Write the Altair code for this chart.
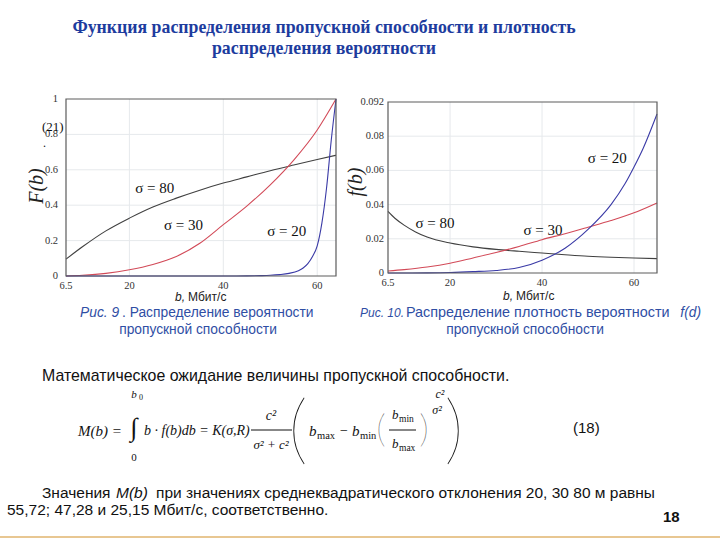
import altair as alt
import pandas as pd

# ---------------- data: Рис. 9, F(b) ----------------
f9_b_s80 = [6.5, 10, 15, 20, 25, 30, 35, 40, 45, 50, 55, 60, 64]
f9_F_s80 = [0.095, 0.165, 0.255, 0.327, 0.39, 0.44, 0.485, 0.525, 0.56, 0.595, 0.627, 0.658, 0.682]
f9_b_s30 = [6.5, 10, 15, 20, 25, 30, 35, 40, 45, 50, 55, 60, 64]
f9_F_s30 = [0.0, 0.004, 0.015, 0.035, 0.065, 0.11, 0.185, 0.29, 0.395, 0.515, 0.655, 0.825, 1.0]
f9_b_s20 = [6.5, 20, 30, 40, 45, 48, 50, 52, 54, 56, 57, 58, 59, 60, 61, 62, 63, 64]
f9_F_s20 = [0, 0, 0, 0, 0.0005, 0.002, 0.004, 0.008, 0.015, 0.03, 0.045, 0.07, 0.11, 0.17, 0.30, 0.50, 0.77, 1.0]

# ---------------- data: Рис. 10, f(b) ----------------
f10_b_s80 = [6.5, 8, 10, 12.5, 15, 20, 25, 30, 35, 40, 45, 50, 55, 60, 65]
f10_f_s80 = [0.036, 0.032, 0.028, 0.024, 0.021, 0.0175, 0.0153, 0.0138, 0.0127, 0.0117, 0.0107, 0.0098, 0.0092, 0.0088, 0.0084]
f10_b_s30 = [6.5, 10, 15, 20, 25, 30, 35, 40, 45, 50, 55, 60, 65]
f10_f_s30 = [0.0012, 0.002, 0.0035, 0.0057, 0.0088, 0.012, 0.0155, 0.0195, 0.023, 0.0268, 0.0307, 0.0352, 0.041]
f10_b_s20 = [6.5, 15, 20, 25, 30, 35, 40, 45, 50, 55, 58, 60, 62, 65]
f10_f_s20 = [0.0, 0.0001, 0.0003, 0.0008, 0.0015, 0.0032, 0.0075, 0.0145, 0.0255, 0.040, 0.052, 0.062, 0.073, 0.093]

series = ["σ = 80", "σ = 30", "σ = 20"]
series_colors = ["#404040", "#d24a58", "#3a3aa6"]

# ticks and tick labels
f9_x_ticks = [6.5, 20, 40, 60]
f9_x_labels = ["6.5", "20", "40", "60"]
f9_y_ticks = [0, 0.2, 0.4, 0.6, 0.8, 1]
f9_y_labels = ["0", "0.2", "0.4", "0.6", "0.8", "1"]
f10_x_ticks = [6.5, 20, 40, 60]
f10_x_labels = ["6.5", "20", "40", "60"]
f10_y_ticks = [0, 0.02, 0.04, 0.06, 0.08, 0.1]
f10_y_labels = ["0", "0.02", "0.04", "0.06", "0.08", "0.092"]

W, H = 720, 540
SERIF = "Liberation Serif"
SANS = "Liberation Sans"
TITLE_BLUE = "#1d3c9e"
CAP_BLUE = "#2f4ea4"


def long_df(parts):
    frames = []
    for name, b, v in parts:
        frames.append(pd.DataFrame({"b": b, "v": v, "s": name}))
    return pd.concat(frames, ignore_index=True)


df9 = long_df([(series[0], f9_b_s80, f9_F_s80), (series[1], f9_b_s30, f9_F_s30), (series[2], f9_b_s20, f9_F_s20)])
df10 = long_df([(series[0], f10_b_s80, f10_f_s80), (series[1], f10_b_s30, f10_f_s30), (series[2], f10_b_s20, f10_f_s20)])


def one(s):
    return pd.DataFrame({"t": [s]})


def panel(df, xs, ys, xticks, xlabels, yticks, ylabels, y_pad, xmin, xmax, ymin, ymax, labels):
    grid_v = alt.Chart(pd.DataFrame({"g": xticks[1:]})).mark_rule(color="#e6e9ec", strokeWidth=1).encode(
        x=alt.X("g:Q", scale=xs, axis=None),
        y=alt.YDatum(ymin, scale=ys, axis=None),
        y2=alt.Y2Datum(ymax),
    )
    grid_h = alt.Chart(pd.DataFrame({"g": yticks[1:-1]})).mark_rule(color="#e6e9ec", strokeWidth=1).encode(
        y=alt.Y("g:Q", scale=ys, axis=None),
        x=alt.XDatum(xmin, scale=xs, axis=None),
        x2=alt.X2Datum(xmax),
    )
    lines = alt.Chart(df).mark_line(strokeWidth=1.1, interpolate="monotone").encode(
        x=alt.X("b:Q", scale=xs, axis=None),
        y=alt.Y("v:Q", scale=ys, axis=None),
        color=alt.Color("s:N", scale=alt.Scale(domain=series, range=series_colors), legend=None),
    )
    frame = alt.Chart(one("")).mark_rect(fillOpacity=0, stroke="#5c5c5c", strokeWidth=1.2).encode(
        x=alt.XDatum(xmin, scale=xs, axis=None),
        x2=alt.X2Datum(xmax),
        y=alt.YDatum(ymin, scale=ys, axis=None),
        y2=alt.Y2Datum(ymax),
    )
    xlab = alt.Chart(pd.DataFrame({"v": xticks, "lab": xlabels})).mark_text(
        font=SERIF, fontSize=10.5, color="#333333", align="center", baseline="top", dy=5
    ).encode(
        x=alt.X("v:Q", scale=xs, axis=None),
        y=alt.YDatum(ymin, scale=ys, axis=None),
        text="lab:N",
    )
    ylab = alt.Chart(pd.DataFrame({"v": yticks, "lab": ylabels})).mark_text(
        font=SERIF, fontSize=10.5, color="#333333", align="right", baseline="middle", dx=-y_pad
    ).encode(
        y=alt.Y("v:Q", scale=ys, axis=None),
        x=alt.XDatum(xmin, scale=xs, axis=None),
        text="lab:N",
    )
    lab_layers = []
    for name, lx, ly in labels:
        lab_layers.append(
            alt.Chart(one(name)).mark_text(font=SERIF, fontSize=15, color="#111111").encode(
                x=alt.XDatum(lx, scale=xs, axis=None),
                y=alt.YDatum(ly, scale=ys, axis=None),
                text="t:N",
            )
        )
    return alt.layer(grid_v, grid_h, lines, frame, xlab, ylab, *lab_layers)


xs9 = alt.Scale(domain=[6.5, 64], range=[66, 336], nice=False, zero=False)
ys9 = alt.Scale(domain=[0, 1], range=[276, 99], nice=False, zero=False)
xs10 = alt.Scale(domain=[6.5, 65], range=[388, 657], nice=False, zero=False)
ys10 = alt.Scale(domain=[0, 0.1], range=[273, 102], nice=False, zero=False)

p9 = panel(df9, xs9, ys9, f9_x_ticks, f9_x_labels, f9_y_ticks, f9_y_labels, 8, 6.5, 64, 0, 1,
           [(series[0], 25.4, 0.50), (series[1], 31.5, 0.29), (series[2], 53.5, 0.255)])
p10 = panel(df10, xs10, ys10, f10_x_ticks, f10_x_labels, f10_y_ticks, f10_y_labels, 4, 6.5, 65, 0, 0.1,
            [(series[0], 16.7, 0.0295), (series[1], 40.2, 0.0252), (series[2], 54.2, 0.067)])


def txt(s, x, y, size, color="#111111", font=SANS, weight="normal", style="normal",
        align="left", angle=0, baseline="middle"):
    return alt.Chart(one(s)).mark_text(
        align=align, baseline=baseline, fontSize=size, font=font, fontWeight=weight,
        fontStyle=style, color=color, angle=angle,
    ).encode(x=alt.value(x), y=alt.value(y), text="t:N")


texts = [
    # title
    txt("Функция распределения пропускной способности и плотность", 324, 28, 17.8, TITLE_BLUE, SERIF, "bold", align="center"),
    txt("распределения вероятности", 324, 49, 17.8, TITLE_BLUE, SERIF, "bold", align="center"),
    # stray marks near left axis
    txt("(21)", 42, 127, 13, "#111111", SERIF),
    txt(".", 43, 143, 12, "#111111", SERIF),
    # axis titles
    txt("F(b)", 37, 186, 20, "#222222", SERIF, style="italic", align="center", angle=270),
    txt("f(b)", 356, 182, 20, "#222222", SERIF, style="italic", align="center", angle=270),
    txt("b,", 175, 297, 12, "#222222", SANS, style="italic"),
    txt("Мбит/с", 188, 297, 12, "#222222", SANS),
    txt("b,", 503, 296, 12, "#222222", SANS, style="italic"),
    txt("Мбит/с", 516, 296, 12, "#222222", SANS),
    # captions
    txt("Рис. 9", 80, 313, 13.8, CAP_BLUE, SANS, style="italic"),
    txt(". Распределение вероятности", 122, 313, 13.8, CAP_BLUE, SANS),
    txt("пропускной способности", 198, 330, 13.8, CAP_BLUE, SANS, align="center"),
    txt("Рис. 10.", 360, 313, 12, CAP_BLUE, SANS, style="italic"),
    txt("Распределение плотность вероятности", 406, 313, 14.4, CAP_BLUE, SANS),
    txt("f(d)", 701, 313, 13.8, CAP_BLUE, SANS, style="italic", align="right"),
    txt("пропускной способности", 525, 330, 13.8, CAP_BLUE, SANS, align="center"),
    # body
    txt("Математическое ожидание величины пропускной способности.", 42, 376, 15.9),
    # formula
    txt("M(b) =", 78, 431, 15, "#111111", SERIF, style="italic"),
    txt("∫", 134, 428, 26, "#111111", SERIF, align="center"),
    txt("b", 134, 395, 11, "#111111", SERIF, style="italic", align="center"),
    txt("0", 139, 398, 8, "#111111", SERIF),
    txt("0", 134, 458, 11, "#111111", SERIF, align="center"),
    txt("b · f(b)db = K(σ,R)", 144, 431, 14, "#111111", SERIF, style="italic"),
    txt("c²", 271, 416, 14, "#111111", SERIF, style="italic", align="center"),
    txt("σ² + c²", 271, 445, 13, "#111111", SERIF, style="italic", align="center"),
    txt("(", 298, 432, 76, "#111111", "Lato", weight=100, align="center"),
    txt("b", 309, 431, 15, "#111111", SERIF, style="italic"),
    txt("max", 317, 436, 10.5, "#111111", SERIF),
    txt("−", 344, 431, 14, "#111111", SERIF, align="center"),
    txt("b", 352, 431, 15, "#111111", SERIF, style="italic"),
    txt("min", 360, 436, 10.5, "#111111", SERIF),
    txt("(", 381, 431, 38, "#111111", "Lato", weight=100, align="center"),
    txt("b", 392, 415, 13, "#111111", SERIF, style="italic"),
    txt("min", 399, 419, 9.5, "#111111", SERIF),
    txt("b", 392, 444, 13, "#111111", SERIF, style="italic"),
    txt("max", 399, 448, 9.5, "#111111", SERIF),
    txt(")", 424, 431, 38, "#111111", "Lato", weight=100, align="center"),
    txt("c²", 440, 394, 12, "#111111", SERIF, style="italic", align="center"),
    txt("σ²", 437, 410, 12, "#111111", SERIF, style="italic", align="center"),
    txt(")", 454, 432, 76, "#111111", "Lato", weight=100, align="center"),
    txt("(18)", 573, 428, 15),
    # bottom text
    txt("Значения", 42, 493, 15.5),
    txt("M(b)", 116, 493, 15.5, style="italic"),
    txt("при значениях среднеквадратического отклонения 20, 30 80 м равны", 156, 493, 15.5),
    txt("55,72; 47,28 и 25,15 Мбит/с, соответственно.", 7, 510, 15.5),
    txt("18", 663, 517, 15, weight="bold"),
]

rules = [
    alt.Chart(one("")).mark_rule(color="#111111", strokeWidth=1).encode(
        x=alt.value(251), x2=alt.value(292), y=alt.value(430)),
    alt.Chart(one("")).mark_rule(color="#111111", strokeWidth=1).encode(
        x=alt.value(389), x2=alt.value(416), y=alt.value(430)),
    alt.Chart(one("")).mark_rule(color="#e0b46e", strokeWidth=1.5).encode(
        x=alt.value(0), x2=alt.value(W), y=alt.value(537)),
]

chart = alt.layer(p9, p10, *texts, *rules).resolve_scale(
    x="independent", y="independent"
).properties(
    width=W, height=H, padding=0, background="white",
    autosize=alt.AutoSizeParams(type="none"),
).configure_view(stroke=None)

chart.save("out.html", embed_options={"renderer": "svg", "actions": False})
